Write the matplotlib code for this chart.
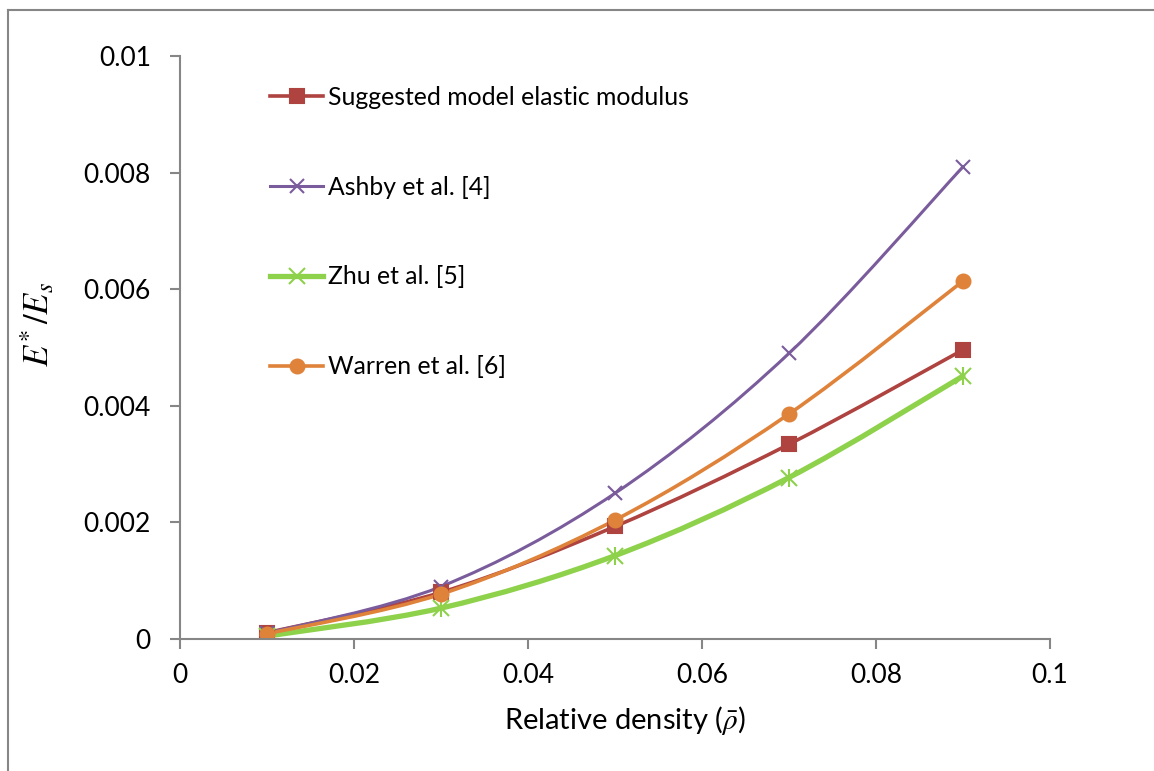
# E*/Es vs relative density - four models
import numpy as np
import matplotlib.pyplot as plt
from matplotlib.path import Path
from matplotlib.patches import PathPatch
from matplotlib.lines import Line2D

plt.rcParams['font.family'] = ['Lato', 'DejaVu Sans']
plt.rcParams['mathtext.fontset'] = 'stix'

densidad = [0.01, 0.03, 0.05, 0.07, 0.09]

modelo = [0.00011, 0.00080, 0.00193, 0.00334, 0.00496]
ashby = [0.0001, 0.0009, 0.0025, 0.0049, 0.0081]
zhu = [0.00005, 0.00053, 0.00143, 0.00277, 0.00451]
warren = [0.00009, 0.00077, 0.00204, 0.00386, 0.00614]

etiquetas = ["Suggested model elastic modulus", "Ashby et al. [4]",
             "Zhu et al. [5]", "Warren et al. [6]"]

x_ticks = [0, 0.02, 0.04, 0.06, 0.08, 0.1]
x_labels = ["0", "0.02", "0.04", "0.06", "0.08", "0.1"]
y_ticks = [0, 0.002, 0.004, 0.006, 0.008, 0.01]
y_labels = ["0", "0.002", "0.004", "0.006", "0.008", "0.01"]


def curva_suave(ax, x, y, color, lw):
    # bezier tipo Excel a traves de los puntos
    p = np.column_stack([x, y])
    n = len(p)
    verts = [p[0]]
    codes = [Path.MOVETO]
    for i in range(n - 1):
        p0 = p[max(i - 1, 0)]
        p1 = p[i]
        p2 = p[i + 1]
        p3 = p[min(i + 2, n - 1)]
        c1 = p1 + (p2 - p0) / 6.0
        c2 = p2 - (p3 - p1) / 6.0
        verts += [c1, c2, p2]
        codes += [Path.CURVE4] * 3
    patch = PathPatch(Path(verts, codes), facecolor="none", edgecolor=color,
                      lw=lw, capstyle="round", joinstyle="round")
    ax.add_patch(patch)


fig = plt.figure(figsize=(11.54, 7.71), dpi=100)
ax = fig.add_axes([180 / 1154, 1 - 639 / 771, 870 / 1154, 583 / 771])

series = [
    (modelo, "#AE4340", "s", 10, 2.6, 1.5),
    (ashby, "#7A5C9C", "x", 10, 2.2, 1.5),
    (zhu, "#8ED14B", "x", 12, 3.8, 1.5),
    (warren, "#DF823A", "o", 10, 2.6, 1.5),
]

handles = []
for k, (vals, color, mk, ms, lw, mew) in enumerate(series):
    curva_suave(ax, densidad, vals, color, lw)
    if k == 2:
        # asterisco: x + linea vertical
        ax.plot(densidad, vals, ls="none", marker="x", ms=ms, mew=mew, color=color)
        ax.plot(densidad, vals, ls="none", marker="|", ms=ms * 1.1, mew=mew, color=color)
        h = Line2D([], [], color=color, lw=lw, marker="x", ms=ms, mew=mew)
    else:
        ax.plot(densidad, vals, ls="none", marker=mk, ms=ms, mew=mew, color=color)
        h = Line2D([], [], color=color, lw=lw, marker=mk, ms=ms, mew=mew)
    handles.append(h)

ax.set_xlim(0, 0.1)
ax.set_ylim(0, 0.01)
ax.set_xticks(x_ticks)
ax.set_xticklabels(x_labels)
ax.set_yticks(y_ticks)
ax.set_yticklabels(y_labels)

for s in ["top", "right"]:
    ax.spines[s].set_visible(False)
for s in ["left", "bottom"]:
    ax.spines[s].set_color("#868686")
    ax.spines[s].set_linewidth(1.5)

ax.tick_params(axis="both", colors="#868686", width=1.5, length=7,
               labelcolor="black", labelsize=19, direction="out")
ax.tick_params(axis="y", pad=14)
ax.tick_params(axis="x", pad=10)

ax.set_xlabel(r"Relative density ($\bar{\rho}$)", fontsize=21)
ax.xaxis.set_label_coords((625 - 180) / 870, (639 - 704) / 583)
ax.set_ylabel(r"$E^{*}\,/E_{s}$", fontsize=25)
ax.yaxis.set_label_coords((56 - 180) / 870, (639 - 325) / 583)

ax.legend(handles, etiquetas, loc="upper left",
          bbox_to_anchor=(270 / 1154, 1 - 86 / 771), bbox_transform=fig.transFigure,
          frameon=False, fontsize=17.8, handlelength=2.15, handletextpad=0.2,
          labelspacing=2.7, borderpad=0, borderaxespad=0)

# marco del grafico
fig.add_artist(Line2D([8 / 1154, 8 / 1154], [0, 1 - 10 / 771],
                      transform=fig.transFigure, color="#868686", lw=1.5))
fig.add_artist(Line2D([8 / 1154, 1], [1 - 10 / 771, 1 - 10 / 771],
                      transform=fig.transFigure, color="#868686", lw=1.5))

fig.savefig("out.png", dpi=100)
